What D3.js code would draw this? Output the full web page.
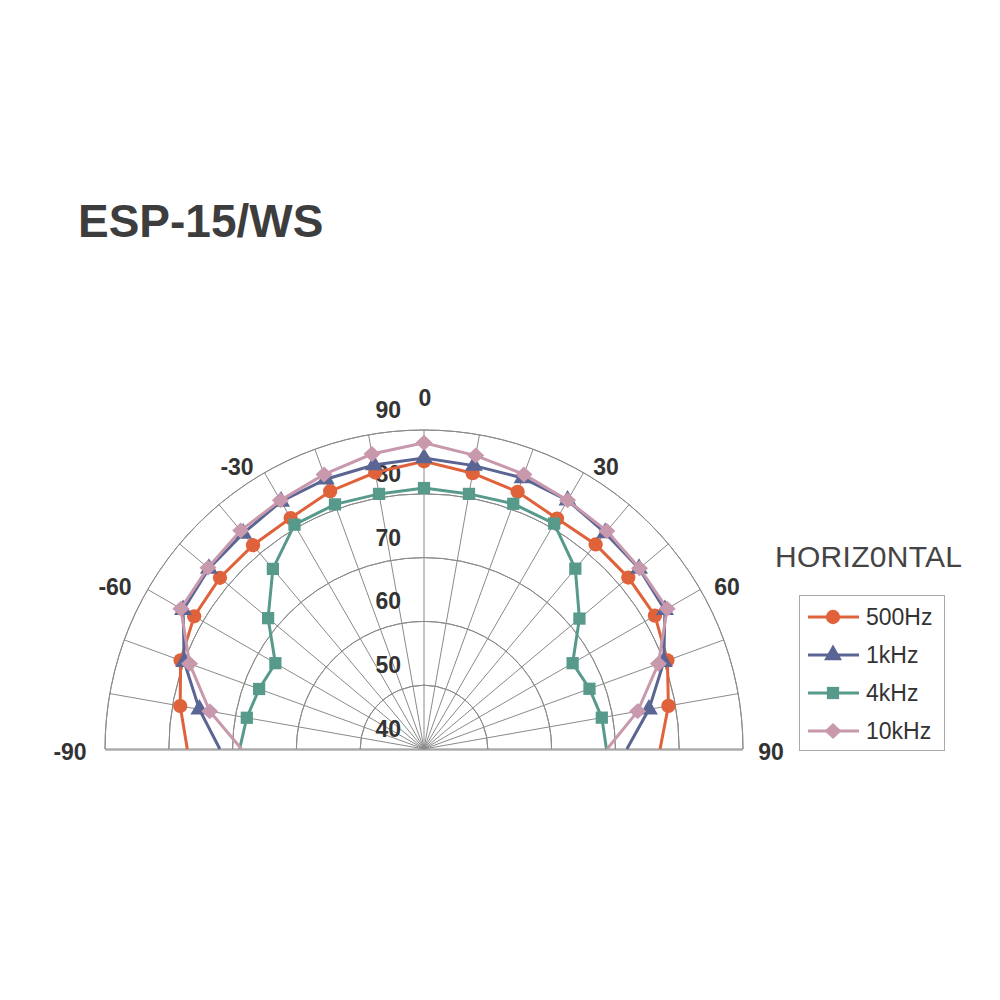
<!DOCTYPE html>
<html><head><meta charset="utf-8">
<script src="https://cdn.jsdelivr.net/npm/d3@7"></script>
<style>body{margin:0;background:#fff}svg{display:block}</style>
</head><body>
<svg id="c" width="1000" height="1000"></svg>
<script>
const angles = [-90,-80,-70,-60,-50,-40,-30,-20,-10,0,10,20,30,40,50,60,70,80,90];
const s500  = [77.1,78.8,80.6,81.6,81.75,81.7,81.8,83.0,84.0,85.1,83.9,82.9,81.7,81.85,81.8,81.8,80.6,78.9,77.0];
const s1k   = [72.0,75.75,80.0,83.6,84.0,84.1,84.8,85.0,85.2,85.6,85.1,85.2,85.0,84.2,84.0,83.6,80.0,75.8,71.8];
const s4k   = [68.9,68.2,67.5,66.9,71.9,76.85,80.6,80.8,80.6,80.9,80.6,80.9,80.8,76.9,71.8,66.9,67.6,68.3,68.6];
const s10k  = [68.6,74.1,79.1,84.0,84.2,84.7,85.0,85.8,86.95,88.0,86.7,85.8,85.0,84.6,84.1,84.0,79.1,74.0,68.7];
const seriesNames = ["500Hz","1kHz","4kHz","10kHz"];
const seriesColors = ["#E0623A","#5A6593","#579A8B","#C898AD"];
const seriesShapes = ["circle","triangle","square","diamond"];
const radialTicks = [40,50,60,70,80,90];
const angleLabels = [-90,-60,-30,0,30,60,90];
const gridAngles = d3.range(-90,91,10);
const title = "ESP-15/WS";
const subtitle = "HORIZ0NTAL";

const FONT = "Liberation Sans, Arial, sans-serif";
const svg = d3.select("#c");
const cx = 424, cy = 749, R = 319;
const r = d3.scaleLinear().domain([40,90]).range([0,R]);
const a = d3.scaleLinear().domain([-90,90]).range([-Math.PI/2, Math.PI/2]);
const pt = (ang,v)=>[cx + r(v)*Math.sin(a(ang)), cy - r(v)*Math.cos(a(ang))];

const g = svg.append("g");
const arc = d3.arc();
radialTicks.slice(1).forEach(t=>{
  g.append("path").attr("transform",`translate(${cx},${cy})`)
   .attr("d", arc({innerRadius:r(t),outerRadius:r(t),startAngle:-Math.PI/2,endAngle:Math.PI/2}))
   .attr("fill","none").attr("stroke","#8a8a8a").attr("stroke-width",1);
});
gridAngles.forEach(ang=>{
  const p = pt(ang,90);
  g.append("line").attr("x1",cx).attr("y1",cy).attr("x2",p[0]).attr("y2",p[1])
   .attr("stroke","#8a8a8a").attr("stroke-width",1);
});
g.append("line").attr("x1",cx-R).attr("x2",cx+R).attr("y1",cy+1).attr("y2",cy+1).attr("stroke","#8a8a8a").attr("stroke-width",1.2);

// radial labels
radialTicks.forEach(t=>{
  g.append("text").attr("x",cx-23).attr("y",cy - r(t) - 12)
   .attr("text-anchor","end").attr("font-family",FONT)
   .attr("font-weight","bold").attr("font-size",23).attr("fill","#333").text(t);
});
// angle labels: placed just outside the outer ring
const labelPos = {"-90":[70,752],"-60":[115,587],"-30":[237,467],"0":[425,398],"30":[606,467],"60":[727,587],"90":[771,752]};
angleLabels.forEach(ang=>{
  const [x,y] = labelPos[ang];
  g.append("text").attr("x",x).attr("y",y+8).attr("text-anchor","middle")
   .attr("font-family",FONT).attr("font-weight","bold")
   .attr("font-size",23).attr("fill","#333").text(ang);
});

// series
svg.append("clipPath").attr("id","cl").append("rect").attr("x",0).attr("y",0).attr("width",1000).attr("height",cy+1);
const data = [s500,s1k,s4k,s10k];
function markerPath(shape){
  if(shape==="diamond") return "M0,-8L8.5,0L0,8L-8.5,0Z";
  if(shape==="circle") return d3.symbol().type(d3.symbolCircle).size(160)();
  if(shape==="triangle") return d3.symbol().type(d3.symbolTriangle).size(140)();
  return d3.symbol().type(d3.symbolSquare).size(150)();
}
const line = d3.line().x(d=>d[0]).y(d=>d[1]);
const sg = svg.append("g").attr("clip-path","url(#cl)");
data.forEach((vals,i)=>{
  const pts = angles.map((ang,j)=>pt(ang,vals[j]));
  sg.append("path").attr("d",line(pts)).attr("fill","none").attr("stroke",seriesColors[i]).attr("stroke-width",3);
  angles.forEach((ang,j)=>{
    if (Math.abs(ang)===90) return;
    const p = pts[j];
    sg.append("path").attr("d",markerPath(seriesShapes[i]))
      .attr("transform",`translate(${p[0]},${p[1]})`).attr("fill",seriesColors[i]);
  });
});

// title
svg.append("text").attr("x",78).attr("y",237).attr("font-family",FONT)
  .attr("font-weight","bold").attr("font-size",46).attr("fill","#3d3d3d").text(title);
svg.append("text").attr("x",775).attr("y",567).attr("font-family",FONT)
  .attr("font-size",30).attr("fill","#444").attr("textLength",187).text(subtitle);

// legend
const lg = svg.append("g");
lg.append("rect").attr("x",799.5).attr("y",595.5).attr("width",145).attr("height",155).attr("fill","#fff").attr("stroke","#aaa").attr("stroke-width",1);
seriesNames.forEach((n,i)=>{
  const y = 617 + i*38;
  lg.append("line").attr("x1",808).attr("x2",859).attr("y1",y).attr("y2",y).attr("stroke",seriesColors[i]).attr("stroke-width",3);
  lg.append("path").attr("d",markerPath(seriesShapes[i]))
    .attr("transform",`translate(833,${y})`).attr("fill",seriesColors[i]);
  lg.append("text").attr("x",866).attr("y",y+8).attr("font-family",FONT)
    .attr("font-size",23).attr("fill","#333").text(n);
});
</script>
</body></html>
